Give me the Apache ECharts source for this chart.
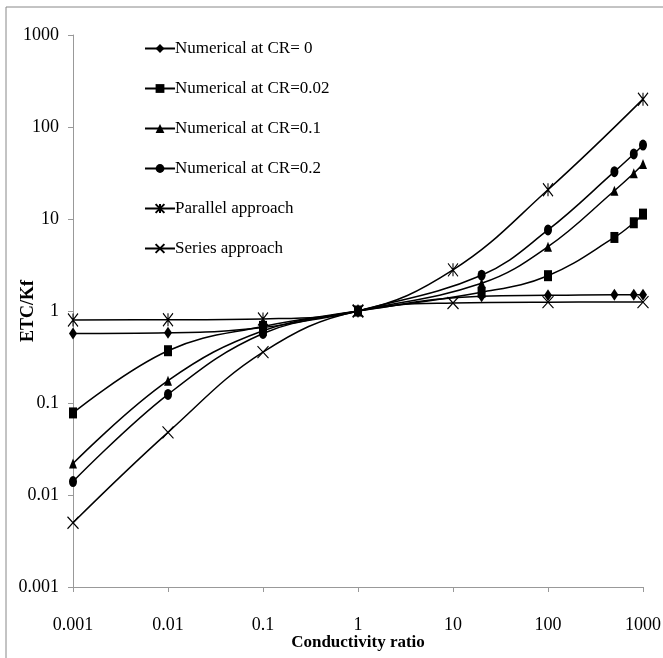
<!DOCTYPE html>
<html><head><meta charset="utf-8">
<script src="https://cdn.jsdelivr.net/npm/echarts@6/dist/echarts.min.js"></script>
<style>html,body{margin:0;padding:0;background:#fff}#c{width:663px;height:658px}</style>
</head><body><div id="c"></div>
<script>
const xNumerical = [0.001, 0.01, 0.1, 1, 20, 100, 500, 800, 1000];
const xApproach = [0.001, 0.01, 0.1, 1, 10, 100, 1000];
const cr0 = [0.57, 0.58, 0.66, 1, 1.45, 1.48, 1.5, 1.5, 1.5];
const cr002 = [0.078, 0.37, 0.68, 1, 1.6, 2.42, 6.3, 9.1, 11.3];
const cr01 = [0.022, 0.175, 0.61, 1, 2.0, 5.0, 20.3, 31.4, 39.6];
const cr02 = [0.014, 0.124, 0.57, 1, 2.45, 7.6, 32.7, 50.9, 63.7];
const parallel = [0.8, 0.802, 0.82, 1, 2.8, 20.8, 200.8];
const seriesApproach = [0.005, 0.048, 0.357, 1, 1.22, 1.247, 1.25];
const seriesNames = ['Numerical at CR= 0', 'Numerical at CR=0.02', 'Numerical at CR=0.1',
  'Numerical at CR=0.2', 'Parallel approach', 'Series approach'];
const tickLabels = ['0.001', '0.01', '0.1', '1', '10', '100', '1000'];
const xTitle = 'Conductivity ratio';
const yTitle = 'ETC/Kf';

const FONT = '"Liberation Serif", "Times New Roman", serif';
const pairs = (xs, ys) => xs.map((x, i) => [x, ys[i]]);
const fmt = v => {
  const e = Math.round(Math.log10(v));
  return tickLabels[e + 3] !== undefined ? tickLabels[e + 3] : String(v);
};
const SYM = {
  diamond: 'diamond',
  square: 'rect',
  triangle: 'triangle',
  circle: 'circle',
  asterisk: 'path://M0,0L10,10M10,0L0,10M5,0L5,10',
  cross: 'path://M0,0L10,10M10,0L0,10'
};
function mk(name, xs, ys, sym, size, stroked) {
  return {
    name, type: 'line', data: pairs(xs, ys), smooth: 0.4,
    symbol: SYM[sym], symbolSize: size, showSymbol: true,
    lineStyle: { color: '#000', width: 1.5 },
    itemStyle: stroked ? { color: 'rgba(0,0,0,0)', borderColor: '#000', borderWidth: 1.2 }
                       : { color: '#000', borderColor: '#000', borderWidth: 0 },
    emphasis: { disabled: true }, animation: false
  };
}
const chart = echarts.init(document.getElementById('c'));
chart.setOption({
  animation: false,
  backgroundColor: '#fff',
  graphic: [{ type: 'rect', shape: { x: 6, y: 7, width: 700, height: 700 },
    style: { fill: 'none', stroke: '#888', lineWidth: 1 }, silent: true }],
  grid: { left: 73, right: 20, top: 35, bottom: 71, containLabel: false, outerBoundsMode: 'none' },
  legend: {
    orient: 'vertical', left: 139, top: 35, itemGap: 23, itemWidth: 30, itemHeight: 11,
    textStyle: { fontFamily: FONT, fontSize: 17, color: '#000', padding: [0, 0, 0, -5] },
    data: seriesNames
  },
  xAxis: {
    type: 'log', logBase: 10, min: 0.001, max: 1000,
    name: xTitle, nameLocation: 'middle', nameGap: 47, nameMoveOverlap: false,
    nameTextStyle: { fontFamily: FONT, fontSize: 17, fontWeight: 'bold', color: '#000' },
    axisLine: { lineStyle: { color: '#999', width: 1 } },
    axisTick: { show: true, length: 5, lineStyle: { color: '#999' } },
    minorTick: { show: false }, splitLine: { show: false },
    axisLabel: { fontFamily: FONT, fontSize: 18, color: '#000', margin: 29, formatter: fmt }
  },
  yAxis: {
    type: 'log', logBase: 10, min: 0.001, max: 1000,
    name: yTitle, nameLocation: 'middle', nameGap: 36, nameRotate: 90, nameMoveOverlap: false,
    nameTextStyle: { fontFamily: FONT, fontSize: 18, fontWeight: 'bold', color: '#000' },
    axisLine: { show: true, lineStyle: { color: '#999', width: 1 } },
    axisTick: { show: true, length: 5, lineStyle: { color: '#999' } },
    splitLine: { show: false },
    axisLabel: { fontFamily: FONT, fontSize: 18, color: '#000', margin: 14, formatter: fmt }
  },
  series: [
    mk(seriesNames[0], xNumerical, cr0, 'diamond', [8, 12], false),
    mk(seriesNames[1], xNumerical, cr002, 'square', [8, 11], false),
    mk(seriesNames[2], xNumerical, cr01, 'triangle', [8, 10], false),
    mk(seriesNames[3], xNumerical, cr02, 'circle', [8, 11], false),
    mk(seriesNames[4], xApproach, parallel, 'asterisk', [10, 13], true),
    mk(seriesNames[5], xApproach, seriesApproach, 'cross', [11, 12], true)
  ]
});
</script></body></html>
